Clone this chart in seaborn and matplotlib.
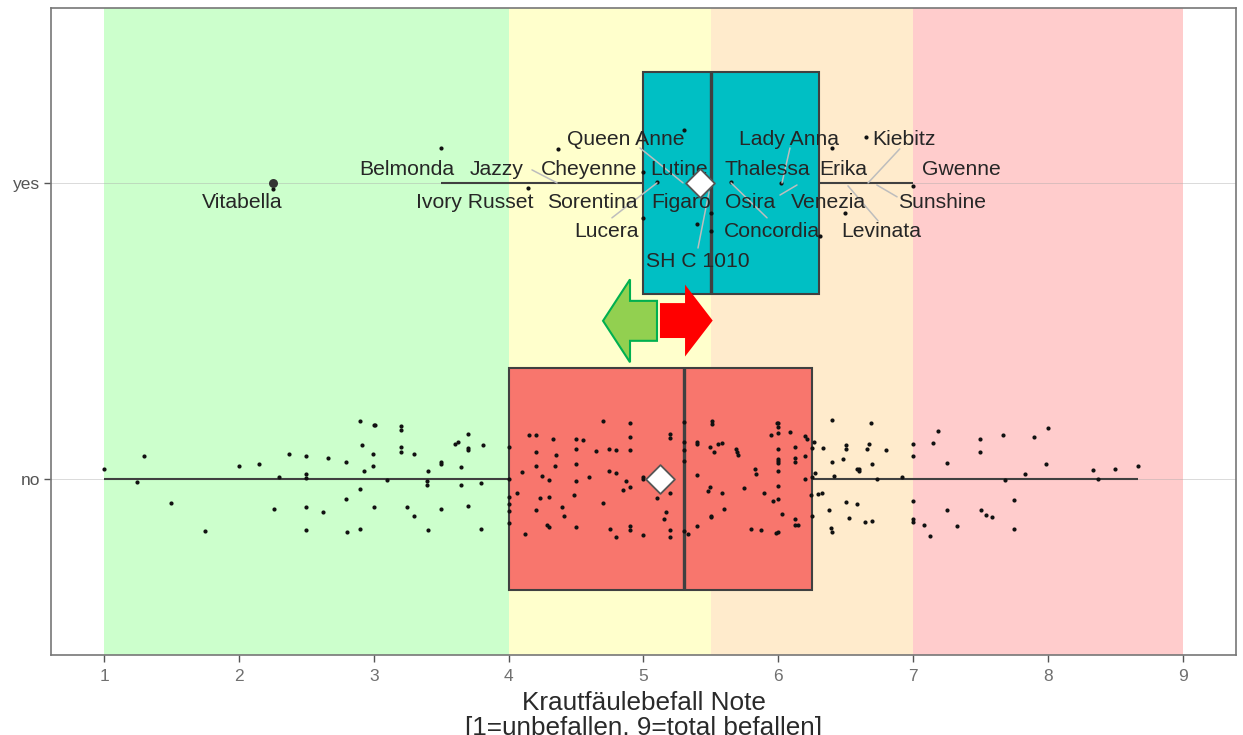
import matplotlib
matplotlib.use("Agg")
import matplotlib.pyplot as plt
from matplotlib.patches import FancyArrow
import pandas as pd
import seaborn as sns

groups = ["no", "yes"]
box_no = [1.0, 4.0, 5.3, 6.25, 8.67]
box_yes = [3.5, 5.0, 5.5, 6.3, 7.0]
mean_notes = [5.12, 5.42]
outlier_note = [2.25]

no_notes = [
    1.00,1.294,1.247,1.497,1.746,1.998,2.149,2.371,2.263,2.297,2.498,2.498,2.498,2.495,2.50,2.66,2.624,2.797,2.794,2.80,
    2.898,2.913,2.93,2.90,2.898,3.0,3.01,2.997,2.997,3.0,3.098,3.2,3.2,3.2,3.2,3.298,3.246,3.296,3.40,3.397,
    3.397,3.496,3.496,3.496,3.40,3.60,3.622,3.696,3.696,3.696,3.647,3.649,3.696,3.81,3.798,3.795,
    4.0,4.0,4.0,4.0,4.0,4.0,4.065,4.099,4.121,4.149,4.2,4.2,4.2,4.2,4.235,4.25,4.299,4.299,4.327,4.349,
    4.346,4.396,4.413,4.287,4.297,4.5,4.549,4.5,4.5,4.5,4.482,4.5,4.596,4.65,4.697,4.744,4.796,4.747,4.799,4.697,
    4.749,4.799,4.9,4.9,4.9,4.873,4.9,4.848,4.9,4.9,4.999,4.999,4.999,5.098,5.196,5.196,5.196,5.164,5.149,5.196,5.196,
    5.298,5.298,5.298,5.298,5.298,5.327,5.394,5.394,5.51,5.51,5.496,5.552,5.582,5.523,5.394,5.493,5.481,5.582,5.594,5.498,5.498,5.394,
    5.686,5.696,5.698,5.745,5.80,5.874,5.829,5.834,5.896,5.948,5.958,6.0,5.995,5.995,5.987,6.0,6.0,6.084,5.997,5.997,
    5.997,6.0,5.995,6.024,5.995,5.98,6.123,6.121,6.121,6.123,6.123,6.148,6.195,6.21,6.195,6.195,6.247,6.247,6.242,6.247,
    6.264,6.271,6.296,6.323,6.333,6.372,6.395,6.397,6.41,6.392,6.397,6.481,6.498,6.501,6.498,6.526,6.58,6.597,6.60,6.583,
    6.644,6.659,6.669,6.684,6.696,6.696,6.733,6.797,6.914,6.998,6.998,6.998,6.998,6.998,7.079,7.121,7.148,7.183,7.247,7.247,
    7.326,7.497,7.497,7.499,7.539,7.581,7.665,7.68,7.747,7.749,7.828,7.897,7.981,7.996,8.33,8.372,8.496,8.668,
]
no_jitter = [
    .034,.078,-.012,-.083,-.177,.044,.052,.085,-.101,.006,.079,.017,.002,-.096,-.173,.070,-.111,.056,-.069,-.180,
    .197,.113,.026,-.035,-.170,.183,.181,.085,.045,-.094,-.004,.179,.166,.108,.092,.085,-.096,-.125,.027,-.007,
    -.020,.058,.050,-.102,-.171,.119,.125,.152,.106,.099,.041,-.020,-.091,.116,-.013,-.170,
    .108,-.001,-.062,-.084,-.108,-.150,-.047,.022,-.186,.148,.148,.091,.043,-.106,-.063,.010,-.003,-.060,.135,.081,
    .045,-.096,-.127,-.155,-.161,.134,.130,.100,.051,-.008,-.053,-.162,.005,.094,.196,.100,.099,.027,.019,-.080,
    -.168,-.195,.189,.143,.097,-.007,-.028,-.036,-.160,-.174,.008,.001,-.188,-.064,.152,.137,-.048,-.112,-.135,-.171,-.195,
    .192,.123,.096,.062,-.176,-.185,.126,.118,.195,.184,.109,.118,.121,.090,.012,-.028,-.042,-.046,-.102,-.124,-.129,-.159,
    .100,.092,.082,-.030,-.169,-.173,.033,.015,-.049,.148,-.073,-.069,.100,.190,.188,.175,.154,.160,.067,.059,
    .053,.025,-.024,-.119,-.181,-.183,.108,.070,.056,-.135,-.156,-.156,.145,.134,.078,-.001,.106,.007,-.054,-.124,
    .123,.019,-.051,-.048,.106,-.104,.199,.056,.011,-.165,-.180,.067,.113,.100,-.079,-.133,.033,.033,.025,-.084,
    -.144,.101,.118,.189,.052,-.142,.001,.098,.008,.117,.076,-.075,-.134,-.144,-.155,-.192,.121,.162,.053,-.105,
    -.160,.134,.090,-.105,-.122,-.129,.149,-.003,-.070,-.170,.018,.143,.049,.172,.030,-.002,.034,.043,
]
yes_notes = [3.499,4.369,4.146,5.0,5.0,5.098,5.298,5.399,5.498,5.497,5.646,6.022,6.398,6.309,6.496,6.647,7.0,2.25]
yes_jitter = [.118,.114,-.016,.038,-.117,.002,.179,-.139,-.103,-.164,.004,0,.117,-.181,-.103,.156,-.01,-.02]

label_names = ["Queen Anne","Lady Anna","Kiebitz","Belmonda","Jazzy","Cheyenne","Lutine","Thalessa","Erika","Gwenne",
               "Vitabella","Ivory Russet","Sorentina","Figaro","Osira","Venezia","Sunshine","Lucera","Concordia","Levinata","SH C 1010"]
label_x = [4.87,6.079,6.93,3.247,3.914,4.596,5.263,5.916,6.479,7.354,2.023,3.751,4.618,5.278,5.79,6.368,7.213,4.722,5.953,6.761,5.404]
label_y = [1.147,1.147,1.147,1.046,1.046,1.046,1.046,1.046,1.046,1.046,.934,.934,.934,.934,.934,.934,.934,.836,.836,.836,.735]

seg_x0 = [4.974,4.173,4.766,5.404,6.086,5.916,6.138,6.90,6.88,6.739]
seg_y0 = [1.118,1.044,.882,.78,1.118,.882,.993,1.115,.953,.872]
seg_x1 = [5.293,4.359,5.1,5.486,6.027,5.649,6.012,6.665,6.73,6.516]
seg_y1 = [1.0,1.0,1.0,.97,1.0,1.0,.959,1.0,.993,.99]

band_edges = [1, 4, 5.5, 7, 9]
band_colors = ["#CCFFCC", "#FFFFCC", "#FFEBCC", "#FFCCCC"]
x_ticks = [1, 2, 3, 4, 5, 6, 7, 8, 9]
x_title = "Krautfäulebefall Note\n[1=unbefallen, 9=total befallen]"

sns.set_theme(style="white")
plt.rcParams["font.family"] = ["Liberation Sans", "DejaVu Sans"]

fig = plt.figure(figsize=(12.43, 7.35), dpi=100)
ax = fig.add_axes([51 / 1243, 80 / 735, 1185 / 1243, 647 / 735])

for i, c in enumerate(band_colors):
    ax.axvspan(band_edges[i], band_edges[i + 1], color=c, lw=0, zorder=0)

box_df = pd.DataFrame({"note": box_no + box_yes, "group": ["no"] * 5 + ["yes"] * 5})
sns.boxplot(data=box_df, x="note", y="group", hue="group", order=groups, hue_order=groups,
            palette=["#F8766D", "#00BFC4"], saturation=1, legend=False, dodge=False, width=0.75, whis=(0, 100),
            showcaps=False, linecolor="#404040", linewidth=1.5,
            medianprops={"linewidth": 2.4, "color": "#404040"}, ax=ax, zorder=2)
ax.axhline(0, color="#AAAAAA", lw=0.6, alpha=0.5, zorder=1)
ax.axhline(1, color="#AAAAAA", lw=0.6, alpha=0.5, zorder=1)

pts = pd.DataFrame({"note": no_notes + yes_notes,
                    "pos": no_jitter + [1 + j for j in yes_jitter]})
sns.scatterplot(data=pts, x="note", y="pos", s=9, color="#111111", linewidth=0, ax=ax, zorder=4, legend=False)
sns.scatterplot(x=outlier_note, y=[1], s=42, color="#333333", linewidth=0, ax=ax, zorder=4, legend=False)

for a, b, c, d in zip(seg_x0, seg_y0, seg_x1, seg_y1):
    ax.plot([a, c], [b, d], color="#BDBDBD", lw=1.1, zorder=5)
for n, x, y in zip(label_names, label_x, label_y):
    ax.text(x, y, n, ha="center", va="center", fontsize=15.2, color="#262626", zorder=6)

sns.scatterplot(x=mean_notes, y=[0, 1], marker="D", s=215, color="white", edgecolor="#555555",
                linewidth=1.3, ax=ax, zorder=7, legend=False)

ax.add_patch(FancyArrow(5.10, .534, -.40, 0, width=.135, head_width=.28, head_length=.2,
                        length_includes_head=True, facecolor="#92D050", edgecolor="#00B050", lw=1.5, zorder=8))
ax.add_patch(FancyArrow(5.122, .535, .391, 0, width=.118, head_width=.243, head_length=.205,
                        length_includes_head=True, facecolor="#FF0000", edgecolor="none", lw=0, zorder=8))

ax.set_xlim(0.607, 9.393)
ax.set_ylim(-0.595, 1.591)
ax.set_xticks(x_ticks)
ax.set_yticks([0, 1], groups)
ax.set_ylabel("")
ax.set_xlabel(x_title, fontsize=18.8, color="#2A2A2A", labelpad=5, linespacing=1.08)
ax.tick_params(axis="x", bottom=True, length=5, width=1, color="#555555", labelsize=12.5, labelcolor="#707070", pad=5)
ax.tick_params(axis="y", left=True, length=5, width=1, color="#555555", labelsize=12.5, labelcolor="#555555", pad=3)
for s in ax.spines.values():
    s.set_visible(True)
    s.set_color("#777777")
    s.set_linewidth(1.2)

fig.savefig("out.png", dpi=100)
